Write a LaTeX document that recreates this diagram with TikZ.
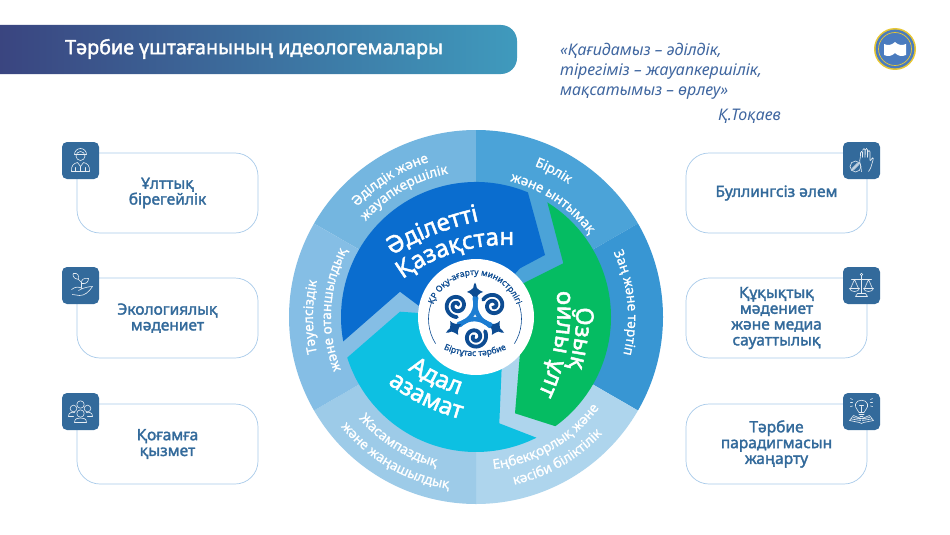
\documentclass[tikz,border=0pt]{standalone}
\usepackage{fontspec}
\setmainfont{Noto Sans}
\newfontfamily\medf[FakeBold=1]{Noto Sans}
\newfontfamily\boldf[FakeBold=2]{Noto Sans}
\usetikzlibrary{decorations.text}
\definecolor{steel}{HTML}{336A9B}
\definecolor{cardline}{HTML}{A9CBEA}
\definecolor{secA}{HTML}{74B6E0}
\definecolor{secB}{HTML}{4BA3D8}
\definecolor{secC}{HTML}{3896D3}
\definecolor{secD}{HTML}{AED5ED}
\definecolor{secE}{HTML}{9DCBE8}
\definecolor{secF}{HTML}{85BEE5}
\definecolor{arrowblue}{HTML}{0A6DCF}
\definecolor{arrowgreen}{HTML}{05BC62}
\definecolor{arrowcyan}{HTML}{0DC0E2}
\definecolor{navy}{HTML}{0D4C92}
\definecolor{midblue}{HTML}{1C7DD2}
\definecolor{quotec}{HTML}{3F66A0}
\definecolor{gold}{HTML}{E8C733}
\definecolor{emblem}{HTML}{4A7BBE}
\definecolor{bannerL}{HTML}{3A4580}
\definecolor{bannerR}{HTML}{3F9ABD}
\newcommand\ringf{\medf\fontsize{13.5}{13.5}\selectfont\color{white}}
\newcommand\bigf{\boldf\fontsize{24}{24}\selectfont\color{white}}
\newcommand\logof{\medf\fontsize{8.5}{8.5}\selectfont\color{navy}}
\newcommand\arctext[6]{\path[decorate,decoration={text along path,text={|#5|#6},text align=center}] ([shift={(#3:#2pt)}]#1) arc[start angle=#3,end angle=#4,radius=#2pt];}
\newcommand\sector[3]{\fill[#3] (c) -- ([shift={(#1:187pt)}]c) arc[start angle=#1,end angle=#2,radius=187pt] -- cycle;}
\newcommand\curl[1]{\begin{scope}[shift={(lo)},rotate=#1]
\draw[midblue,line width=4.5pt,line cap=round] (-15,-9) .. controls (-8,-1) and (7,-1) .. (15,-10);
\draw[navy,line width=3.8pt,line cap=round] plot[domain=40:640,samples=60] ({(1+0.0165*\x)*cos(\x+110)},{-21+(1+0.0165*\x)*sin(\x+110)});
\fill[navy,rotate=-120] (0,16) .. controls (-2,20) and (-4,23) .. (-8,24) .. controls (-5,25.5) and (-3,26.5) .. (-1.8,28) .. controls (-1.6,30) and (-1,32) .. (0,33.5) .. controls (1,32) and (1.6,30) .. (1.8,28) .. controls (3,26.5) and (5,25.5) .. (8,24) .. controls (4,23) and (2,20) .. (0,16) -- cycle;
\end{scope}}
\tikzset{
 card/.style={draw=cardline,line width=0.7pt,rounded corners=23pt,minimum width=181pt,minimum height=80pt,inner sep=0pt,align=center,text=steel,font=\boldf\fontsize{15.5}{15.8}\selectfont},
 iconbox/.style={fill=steel,rounded corners=5pt,minimum width=37pt,minimum height=37pt,inner sep=0pt},
 ico/.style={draw=white!88!steel,line width=0.6pt,line cap=round,line join=round},
 quote/.style={anchor=base west,inner sep=0pt,text=quotec,font=\itshape\fontsize{16}{16}\selectfont}
}
\begin{document}
\begin{tikzpicture}[x=1pt,y=1pt]
\useasboundingbox (0,0) rectangle (950,-535);
\fill[white] (0,0) rectangle (950,-535);
% banner
\path[left color=bannerL,right color=bannerR] (0,-25) -- (501,-25) arc[start angle=90,end angle=0,radius=16pt] -- (517,-58) arc[start angle=0,end angle=-90,radius=16pt] -- (0,-74) -- cycle;
\node[anchor=west,inner sep=0pt,text=white,font=\boldf\fontsize{19.7}{19.7}\selectfont] (title) at (65,-49) {Тәрбие үштағанының идеологемалары};
% quote
\node[quote] (q1) at (560,-56) {«Қағидамыз – әділдік,};
\node[quote] (q2) at (560,-75) {тірегіміз – жауапкершілік,};
\node[quote] (q3) at (560,-95) {мақсатымыз – өрлеу»};
\node[quote] (q4) at (718,-120) {Қ.Тоқаев};
% emblem
\coordinate (e) at (895,-49);
\fill[gold] (e) circle (21pt);
\fill[emblem] (e) circle (19.4pt);
\draw[gold,line width=0.7pt] (e) circle (16.5pt);
\fill[white] (884,-44) -- (884,-55) .. controls (888,-57) and (892,-56) .. (895,-53) .. controls (898,-56) and (902,-57) .. (906,-55) -- (906,-44) .. controls (902,-46) and (898,-45) .. (895,-42) .. controls (892,-45) and (888,-46) .. (884,-44) -- cycle;
% wheel
\coordinate (c) at (476,-317);
\sector{90}{150}{secA}
\sector{30}{90}{secB}
\sector{-30}{30}{secC}
\sector{-90}{-30}{secD}
\sector{-150}{-90}{secE}
\sector{150}{210}{secF}
\fill[arrowblue] ([shift={(67.4:135pt)}]c) arc[start angle=67.4,end angle=190.4,radius=135pt] -- (400,-291.7) -- (420,-306.7) -- (c) -- (520,-268.3) -- (545,-255) -- cycle;
\fill[arrowgreen] ([shift={(58.1:135pt)}]c) arc[start angle=58.1,end angle=-54,radius=135pt] -- (515,-413.3) -- (520,-353) -- (c) -- (520,-285) -- (563.3,-263.3) -- cycle;
\fill[arrowcyan] ([shift={(-63.4:135pt)}]c) arc[start angle=-63.4,end angle=-162.5,radius=135pt] -- (400,-311.7) -- (c) -- (501.7,-366.7) -- (499.3,-423.3) -- cycle;
% ring labels
\arctext{c}{162}{172}{72}{\ringf}{Әділдік және}
\arctext{c}{146}{180}{60}{\ringf}{жауапкершілік}
\arctext{c}{162}{112}{12}{\ringf}{Бірлік}
\arctext{c}{140}{116}{-4}{\ringf}{және ынтымақ}
\arctext{c}{152}{55.5}{-44.5}{\ringf}{Заң және тәртіп}
\arctext{c}{153}{-120}{0}{\ringf}{Еңбекқорлық және}
\arctext{c}{172}{-120}{0}{\ringf}{кәсіби біліктілік}
\arctext{c}{155}{178}{298}{\ringf}{Жасампаздық}
\arctext{c}{174}{180}{300}{\ringf}{және жаңашылдық}
\arctext{c}{163}{240}{120}{\ringf}{Тәуелсіздік}
\arctext{c}{145}{240}{114}{\ringf}{және отаншылдық}
% arrow labels
\coordinate (ca) at (543,-511);
\coordinate (cb) at (506,-418);
\coordinate (cg) at (363.5,-310);
\coordinate (cc) at (519,-207);
\arctext{ca}{297}{131.5}{91.5}{\bigf}{Әділетті}
\arctext{cb}{173}{152}{62}{\bigf}{Қазақстан}
\arctext{cg}{213}{20}{-35}{\bigf}{Озық}
\arctext{cg}{194}{30}{-50}{\bigf}{ойлы ұлт}
\arctext{cc}{197}{214}{274}{\bigf}{Адал}
\arctext{cc}{220}{214}{274}{\bigf}{азамат}
% logo
\fill[white] (c) circle (58pt);
\coordinate (lc) at (475,-319);
\coordinate (lo) at (475,-316);
\draw[navy,line width=0.6pt] ([shift={(160:46.5pt)}]lc) arc[start angle=160,end angle=212,radius=46.5pt];
\draw[navy,line width=0.6pt] ([shift={(20:46.5pt)}]lc) arc[start angle=20,end angle=-32,radius=46.5pt];
\arctext{lc}{44}{180}{0}{\logof}{ҚР Оқу-ағарту министрлігі}
\coordinate (lb) at (475,-281);
\arctext{lb}{75}{-120}{-60}{\logof}{Біртұтас тәрбие}
\curl{0}
\curl{120}
\curl{240}
% left cards
\node[card] (k1) at (167.5,-193) {Ұлттық\\бірегейлік};
\node[card] (k2) at (167.5,-318) {Экологиялық\\мәдениет};
\node[card] (k3) at (167.5,-444) {Қоғамға\\қызмет};
\node[card] (k4) at (776.5,-193) {Буллингсіз әлем};
\node[card] (k5) at (776.5,-318) {Құқықтық\\мәдениет\\және медиа\\сауаттылық};
\node[card] (k6) at (776.5,-444) {Тәрбие\\парадигмасын\\жаңарту};
\node[iconbox] (i1) at (80.5,-160.5) {};
\node[iconbox] (i2) at (80.5,-285.5) {};
\node[iconbox] (i3) at (80.5,-411.5) {};
\node[iconbox] (i4) at (861.5,-160.5) {};
\node[iconbox] (i5) at (861.5,-285.5) {};
\node[iconbox] (i6) at (861.5,-411.5) {};
% icon: person
\begin{scope}[shift={(i1.center)}]
\draw[ico] (0,4.5) circle (4.5pt);
\draw[ico] (-6,6) arc[start angle=180,end angle=0,radius=6pt] -- cycle;
\draw[ico] (-9,-11) .. controls (-9.5,-5) and (-7,-3) .. (-3,-2) -- (0,-6) -- (3,-2) .. controls (7,-3) and (9.5,-5) .. (9,-11) -- cycle;
\draw[ico] (0,-6) -- (0,-11) (-5,-7) -- (-5,-11) (5,-7) -- (5,-11);
\end{scope}
% icon: plant in hand
\begin{scope}[shift={(i2.center)}]
\draw[ico] (-9,-4) .. controls (-5,-1) and (-2,-1) .. (2,-3) .. controls (5,-2) and (9,-1) .. (12,-1) .. controls (8,-7) and (4,-10) .. (-1,-10) -- (-8,-9) (2,-3) -- (-2,-5);
\draw[ico] (1,-2) -- (1,3) .. controls (0,5) and (-1,5) .. (-2,6);
\draw[ico] (-2,6) .. controls (-8,7) and (-8,11) .. (-7,12) .. controls (-3,13) and (-1,10) .. (-2,6) -- cycle;
\draw[ico] (1,2) .. controls (6,1) and (8,4) .. (8,7) .. controls (4,8) and (0,6) .. (1,2) -- cycle;
\end{scope}
% icon: group
\begin{scope}[shift={(i3.center)}]
\draw[ico] (0,7) circle (3.7pt) (-7,3) circle (3.3pt) (7,3) circle (3.3pt) (0,-2) circle (3.7pt);
\draw[ico] (-12,-5) .. controls (-12,-1) and (-9,-0.5) .. (-6,-1) (12,-5) .. controls (12,-1) and (9,-0.5) .. (6,-1) (-12,-5) -- (-7,-5) (12,-5) -- (7,-5);
\draw[ico] (-6,-11) .. controls (-6,-7) and (-3,-6.5) .. (0,-6.5) .. controls (3,-6.5) and (6,-7) .. (6,-11) -- cycle;
\end{scope}
% icon: stop hand
\begin{scope}[shift={(i4.center)}]
\draw[ico,rounded corners=1.2pt] (0,-11) -- (-1,-4) -- (-2,-1) -- (-1,4) -- (-1,9) -- (1,9) -- (1,2) -- (1.5,12) -- (3.5,12) -- (3.5,2) -- (4,12) -- (6,12) -- (6,2) -- (6.5,10) -- (8.5,10) -- (8.5,-1) -- (11,3) -- (12,2) -- (9,-8) -- (7,-11);
\draw[ico] (-6,-6) circle (5.5pt) (-9.5,-9.5) -- (-2.5,-2.5) (-8,-9.5) -- (-2.5,-4) (-9.5,-8) -- (-4,-2.5);
\end{scope}
% icon: scales
\begin{scope}[shift={(i5.center)}]
\draw[ico] (0,11) circle (1.3pt) (0,9.7) -- (0,-8) (-4,-8) -- (4,-8) (-6,-11) -- (6,-11) -- (4,-8) (-6,-11) -- (-4,-8);
\draw[ico] (-10,6) -- (10,6);
\draw[ico] (-7,6) -- (-11,-3) (-7,6) -- (-3,-3) (7,6) -- (3,-3) (7,6) -- (11,-3);
\draw[ico] (-12,-3) -- (-2,-3) .. controls (-3,-7) and (-11,-7) .. (-12,-3) (12,-3) -- (2,-3) .. controls (3,-7) and (11,-7) .. (12,-3);
\end{scope}
% icon: bulb and book
\begin{scope}[shift={(i6.center)}]
\draw[ico] (-2.5,-1) .. controls (-3,2) and (-7,3) .. (-6,7.5) .. controls (-5,12.5) and (5,12.5) .. (6,7.5) .. controls (7,3) and (3,2) .. (2.5,-1) -- cycle;
\draw[ico] (-2.5,-3) -- (2.5,-3) (-1.5,-5) -- (1.5,-5) (0,-1) -- (0,5) (-2,6) -- (2,6);
\draw[ico] (-11,9) -- (-9,9) (-11,5) -- (-9,5.5) (-11,13) -- (-9,12) (11,9) -- (9,9) (11,5) -- (9,5.5) (11,13) -- (9,12);
\draw[ico] (-12,-9) -- (-8,-4) -- (-3,-6) -- (0,-7) -- (3,-6) -- (8,-4) -- (12,-9) -- (2,-11) -- (0,-12) -- (-2,-11) -- cycle (-10,-7.5) -- (-1,-9) (10,-7.5) -- (1,-9) (-8,-6) -- (-1,-7.5) (8,-6) -- (1,-7.5);
\end{scope}
\end{tikzpicture}
\end{document}
